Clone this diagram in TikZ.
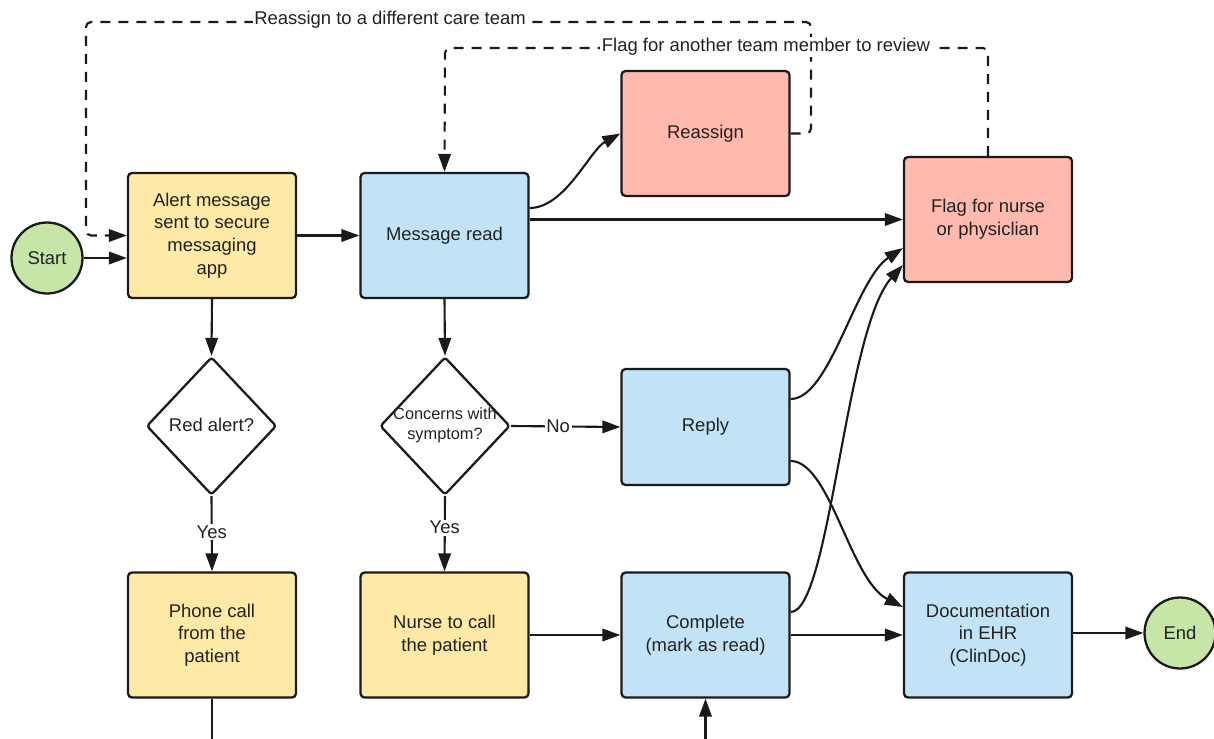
\documentclass[tikz,border=0pt]{standalone}
\usepackage{fontspec}
\setmainfont{Liberation Sans}
\usetikzlibrary{arrows.meta,shapes.geometric}
\definecolor{yel}{HTML}{FFE9A6}
\definecolor{blu}{HTML}{C2E3F5}
\definecolor{pnk}{HTML}{FFB9AE}
\definecolor{grn}{HTML}{C6E6A8}
\definecolor{linec}{HTML}{1A1A1A}
\definecolor{textc}{HTML}{222222}
\begin{document}
\begin{tikzpicture}[x=0.02cm,y=-0.02cm,
  base/.style={draw=linec, line width=1.3pt, text=textc, align=center, inner sep=0pt, font=\fontsize{10.5}{12.9}\selectfont},
  box/.style={base, rounded corners=0.8mm, minimum width=3.36cm, minimum height=2.5cm},
  ybox/.style={box, fill=yel},
  bbox/.style={box, fill=blu},
  pbox/.style={box, fill=pnk},
  term/.style={base, circle, fill=grn, minimum size=1.42cm},
  dec/.style={base, diamond, fill=white, minimum width=2.6cm, minimum height=2.76cm, rounded corners=0.6mm},
  dtext/.style={align=center, inner sep=0pt, text=textc},
  arr/.style={line width=1.2pt, draw=linec, -{Triangle[length=3.6mm,width=2.5mm]}},
  ln/.style={line width=1.2pt, draw=linec},
  dsh/.style={arr, dash pattern=on 2mm off 1.6mm, rounded corners=1mm},
  lab/.style={fill=white, inner sep=1pt, text=textc, font=\fontsize{10.5}{12.9}\selectfont}
]
\useasboundingbox (0,0) rectangle (1214,738);
\clip (0,0) rectangle (1214,738);

% nodes
\node[term] (start) at (47,258) {Start};
\node[ybox] (alert) at (212,235.5) {Alert message\\sent to secure\\messaging\\app};
\node[bbox] (message) at (444.5,235.5) {Message read};
\node[pbox] (reassign) at (705.5,133.5) {Reassign};
\node[pbox] (flag) at (988,219.5) {Flag for nurse\\or physiclian};
\node[dec] (d1) at (211.5,426) {};
\node[dtext, font=\fontsize{10.5}{12.9}\selectfont] (d1t) at (211.5,425) {Red alert?};
\node[dec] (d2) at (445,426) {};
\node[dtext, font=\fontsize{9.3}{11.4}\selectfont] (d2t) at (445,425) {Concerns with\\symptom?};
\node[bbox, minimum height=2.32cm] (reply) at (705.5,427) {Reply};
\node[ybox] (phone) at (212,635) {Phone call\\from the\\patient};
\node[ybox] (nurse) at (444.5,635) {Nurse to call\\the patient};
\node[bbox] (complete) at (705.5,635) {Complete\\(mark as read)};
\node[bbox] (doc) at (988,635) {Documentation\\in EHR\\(ClinDoc)};
\node[term] (end) at (1180,633) {End};

% coordinates
\coordinate (r1) at (811,22);
\coordinate (r2) at (86,22);
\coordinate (f1) at (445,48);
\coordinate (pbot) at (212,770);
\coordinate (cbot) at (705.5,770);

% dashed loops
\draw[dsh] (reassign.east) -| (r1) -- (r2) |- (alert.west);
\draw[dsh] (flag.north) |- (f1) -- (message.north);
\node[lab] (l1) at (390,20) {Reassign to a different care team};
\node[lab] (l2) at (766,47) {Flag for another team member to review};

% straight connectors
\draw[arr] (start.east) -- (start.east -| alert.west);
\draw[arr] (alert.east) -- (message.west);
\draw[arr] (flag.west -| message.east) -- (flag.west);
\draw[arr] (alert.south) -- (d1.north);
\draw[arr] (message.south) -- (d2.north);
\draw[arr] (d1.south) -- node[lab, pos=0.48] (y1) {Yes} (phone.north);
\draw[arr] (d2.south) -- node[lab, pos=0.42] (y2) {Yes} (nurse.north);
\draw[arr] (d2.east) -- node[lab, pos=0.43] (n1) {No} (reply.west);
\draw[arr] (nurse.east) -- (complete.west);
\draw[arr] (complete.east) -- (doc.west);
\draw[arr] (end.west -| doc.east) -- (end.west);
\draw[ln] (phone.south) -- (pbot);
\draw[arr] (cbot) -- (complete.south);

% curved connectors
\draw[arr] (message.east |- 0,208) .. controls (565,208) and (590,150) .. (reassign.west);
\draw[arr] (reply.east |- 0,399) .. controls (830,399) and (855,280) .. (flag.west |- 0,248);
\draw[arr] (complete.east |- 0,612) .. controls (830,612) and (845,330) .. (flag.west |- 0,265);
\draw[arr] (reply.east |- 0,461) .. controls (830,461) and (850,580) .. (doc.west |- 0,607);
\end{tikzpicture}
\end{document}
